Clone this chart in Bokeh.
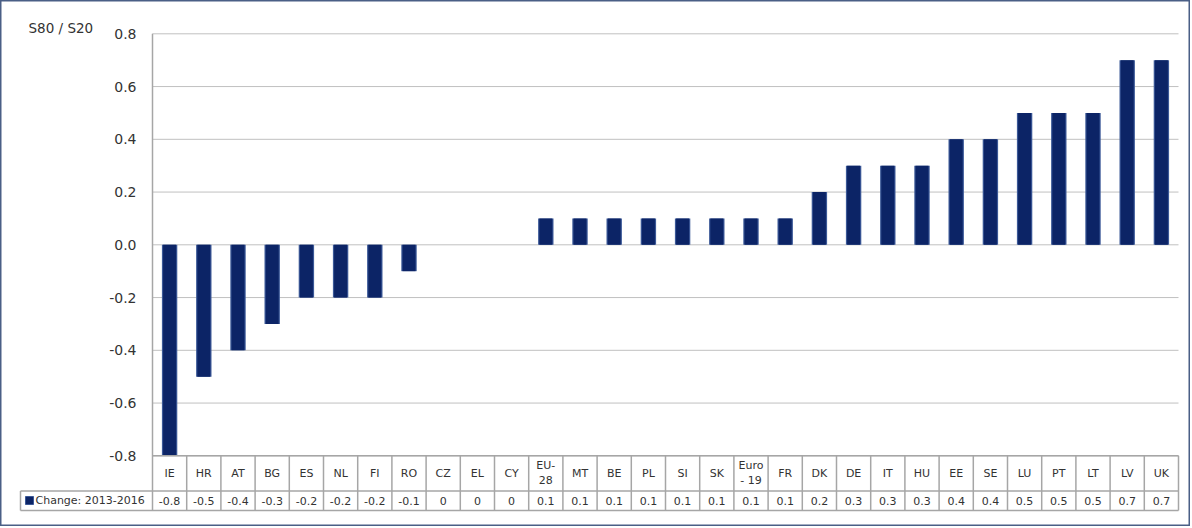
from bokeh.plotting import figure
from bokeh.models import Range1d, ColumnDataSource
from bokeh.core.properties import value
from bokeh.embed import file_html
from bokeh.resources import INLINE

# ---- data ----
countries = ["IE", "HR", "AT", "BG", "ES", "NL", "FI", "RO", "CZ", "EL", "CY",
             "EU-\n28", "MT", "BE", "PL", "SI", "SK", "Euro\n- 19", "FR", "DK", "DE",
             "IT", "HU", "EE", "SE", "LU", "PT", "LT", "LV", "UK"]
change = [-0.8, -0.5, -0.4, -0.3, -0.2, -0.2, -0.2, -0.1, 0, 0, 0,
          0.1, 0.1, 0.1, 0.1, 0.1, 0.1, 0.1, 0.1, 0.2, 0.3,
          0.3, 0.3, 0.4, 0.4, 0.5, 0.5, 0.5, 0.7, 0.7]
value_labels = ["-0.8", "-0.5", "-0.4", "-0.3", "-0.2", "-0.2", "-0.2", "-0.1", "0", "0", "0",
                "0.1", "0.1", "0.1", "0.1", "0.1", "0.1", "0.1", "0.1", "0.2", "0.3",
                "0.3", "0.3", "0.4", "0.4", "0.5", "0.5", "0.5", "0.7", "0.7"]
y_ticks = [0.8, 0.6, 0.4, 0.2, 0.0, -0.2, -0.4, -0.6, -0.8]
y_tick_labels = ["0.8", "0.6", "0.4", "0.2", "0.0", "-0.2", "-0.4", "-0.6", "-0.8"]
series_name = "Change: 2013-2016"
y_title = "S80 / S20"

# ---- layout (page pixel -> data units) ----
W, H = 1190, 526
PAGE0 = 0
X0, DX = 152.0, 34.2          # page x of plot left, px per category
Y0, DY = 244.3, 263.75        # page y of zero, px per unit


def ux(px):
    return (px - X0) / DX


def uy(py):
    return (Y0 - py) / DY


n = len(countries)
p = figure(width=W, height=H, output_backend="svg", toolbar_location=None,
           x_range=Range1d(ux(PAGE0), ux(PAGE0 + W)),
           y_range=Range1d(uy(PAGE0 + H), uy(PAGE0)),
           min_border=0)
p.xaxis.visible = False
p.yaxis.visible = False
p.xgrid.visible = False
p.ygrid.visible = False
p.outline_line_color = "#4a5f86"
p.outline_line_width = 2
p.background_fill_color = "white"

grid_col = "#c0c0c0"
tab_col = "#a6a6a6"
txt_col = "#333333"
font = value("DejaVu Sans")

# gridlines
p.segment(x0=[0] * len(y_ticks), x1=[n] * len(y_ticks), y0=y_ticks, y1=y_ticks,
          line_color=grid_col, line_width=1)

# bars
xs = [i + 0.5 for i in range(n)]
src = ColumnDataSource(dict(x=xs, top=change))
p.vbar(x="x", top="top", bottom=0, width=0.45, source=src,
       fill_color="#3b5897", line_color=None)
p.vbar(x="x", top="top", bottom=0, width=0.38, source=src,
       fill_color="#0c2466", line_color=None)

# y axis line (extends through table)
row_split = uy(490.5)
tab_bottom = uy(510)
p.segment(x0=[0], x1=[0], y0=[y_ticks[0]], y1=[tab_bottom], line_color=tab_col, line_width=1.5)

# y tick labels
p.text(x=[ux(136)] * len(y_ticks), y=y_ticks, text=y_tick_labels,
       text_align="right", text_baseline="middle", text_font=font,
       text_font_size="14px", text_color=txt_col)
# y title
p.text(x=[ux(28)], y=[uy(27)], text=[y_title], text_align="left",
       text_baseline="middle", text_font=font, text_font_size="13.5px", text_color=txt_col)

# table
bottom_tab = min(y_ticks)
p.segment(x0=[0], x1=[n], y0=[bottom_tab], y1=[bottom_tab], line_color=tab_col, line_width=1.5)
p.segment(x0=[ux(20)], x1=[n], y0=[row_split], y1=[row_split], line_color=tab_col, line_width=1.5)
p.segment(x0=[ux(20)], x1=[n], y0=[tab_bottom], y1=[tab_bottom], line_color=tab_col, line_width=1.5)
p.segment(x0=[ux(20)], x1=[ux(20)], y0=[row_split], y1=[tab_bottom], line_color=tab_col, line_width=1.5)
vx = list(range(1, n + 1))
p.segment(x0=vx, x1=vx, y0=[bottom_tab] * n, y1=[tab_bottom] * n, line_color=tab_col, line_width=1.5)

p.text(x=xs, y=[(bottom_tab + row_split) / 2] * n, text=countries,
       text_align="center", text_baseline="middle", text_font=font,
       text_font_size="11px", text_color=txt_col, text_line_height=1.15)
p.text(x=xs, y=[(row_split + tab_bottom) / 2] * n, text=value_labels,
       text_align="center", text_baseline="middle", text_font=font,
       text_font_size="11px", text_color=txt_col)

# legend key in table
p.rect(x=[ux(29)], y=[uy(500)], width=8 / DX, height=8 / DY,
       fill_color="#0c2466", line_color="#3b5897")
p.text(x=[ux(35)], y=[(row_split + tab_bottom) / 2], text=[series_name],
       text_align="left", text_baseline="middle", text_font=font,
       text_font_size="11px", text_color=txt_col)

open("out.html", "w").write(file_html(p, INLINE))
